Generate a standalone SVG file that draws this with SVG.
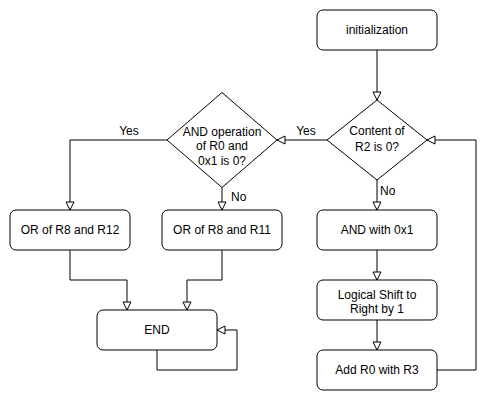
<svg xmlns="http://www.w3.org/2000/svg" width="498" height="401" viewBox="0 0 498 401">
<style>
.box{fill:#fff;stroke:#000;stroke-width:1}
.ln{fill:none;stroke:#000;stroke-width:1}
text{font-family:"Liberation Sans",Arial,sans-serif;font-size:12px;fill:#000}
.c{text-anchor:middle}
</style>
<defs>
<marker id="ah" markerUnits="userSpaceOnUse" markerWidth="10" markerHeight="10" viewBox="0 0 10 10" refX="9" refY="5" orient="auto">
<path d="M1,1 L9,5 L1,9 Z" fill="#fff" stroke="#000" stroke-width="1"/>
</marker>
</defs>
<rect width="498" height="401" fill="#fff"/>
<g id="connectors">
<path class="ln" d="M377,50 V100" marker-end="url(#ah)"/>
<path class="ln" d="M327,140 H277" marker-end="url(#ah)"/>
<path class="ln" d="M377,180 V210" marker-end="url(#ah)"/>
<path class="ln" d="M377,250 V280" marker-end="url(#ah)"/>
<path class="ln" d="M377,320 V350" marker-end="url(#ah)"/>
<path class="ln" d="M437,370 H476 V140 H427" marker-end="url(#ah)"/>
<path class="ln" d="M167,140 H70 V210" marker-end="url(#ah)"/>
<path class="ln" d="M222,187.5 V210" marker-end="url(#ah)"/>
<path class="ln" d="M70,250 V280 H127 V310" marker-end="url(#ah)"/>
<path class="ln" d="M222,250 V280 H187 V310" marker-end="url(#ah)"/>
<path class="ln" d="M157,350 V370 H237 V330 H217" marker-end="url(#ah)"/>
<text x="306" y="135" class="c">Yes</text>
<text x="129" y="135" class="c">Yes</text>
<text x="380" y="195">No</text>
<text x="231" y="201">No</text>
</g>
<g id="init">
<rect class="box" x="317" y="10" width="120" height="40" rx="6"/>
<text x="377" y="34" class="c">initialization</text>
</g>
<g id="cond1">
<path class="box" d="M377,100 L427,140 L377,180 L327,140 Z"/>
<text x="377" y="135" class="c">Content of</text>
<text x="377" y="151" class="c">R2 is 0?</text>
</g>
<g id="cond2">
<path class="box" d="M222,92.5 L277,140 L222,187.5 L167,140 Z"/>
<text x="222" y="136" class="c">AND operation</text>
<text x="222" y="150" class="c">of R0 and</text>
<text x="222" y="164.5" class="c">0x1 is 0?</text>
</g>
<g id="and">
<rect class="box" x="317" y="210" width="120" height="40" rx="6"/>
<text x="377" y="234" class="c">AND with 0x1</text>
</g>
<g id="shift">
<rect class="box" x="317" y="280" width="120" height="40" rx="6"/>
<text x="377" y="298.5" class="c">Logical Shift to</text>
<text x="377" y="313" class="c">Right by 1</text>
</g>
<g id="add">
<rect class="box" x="317" y="350" width="120" height="40" rx="6"/>
<text x="377" y="374" class="c">Add R0 with R3</text>
</g>
<g id="or12">
<rect class="box" x="10" y="210" width="120" height="40" rx="6"/>
<text x="70" y="234" class="c">OR of R8 and R12</text>
</g>
<g id="or11">
<rect class="box" x="162" y="210" width="120" height="40" rx="6"/>
<text x="222" y="234" class="c">OR of R8 and R11</text>
</g>
<g id="end">
<rect class="box" x="97" y="310" width="120" height="40" rx="6"/>
<text x="157" y="334" class="c">END</text>
</g>
</svg>
